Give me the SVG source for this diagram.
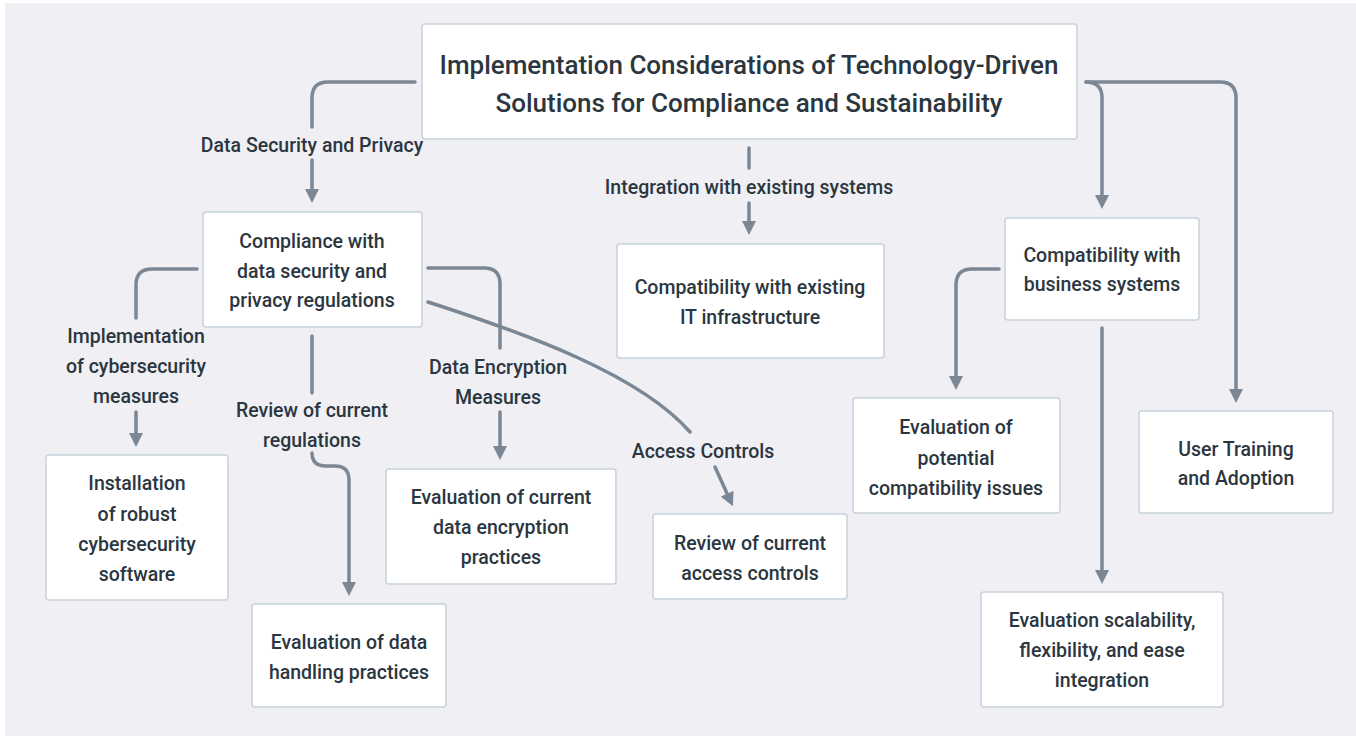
<svg xmlns="http://www.w3.org/2000/svg" width="1356" height="738" viewBox="0 0 1356 738">
<style>
  .node rect { fill: #ffffff; stroke: #c8d2dc; stroke-width: 1.5; }
  .t { font-family: Roboto, "Liberation Sans", sans-serif; font-size: 19.5px; font-weight: 500; fill: #2b3640; text-anchor: middle; }
  .title { font-size: 26px; }
  .lbl { font-family: Roboto, "Liberation Sans", sans-serif; font-size: 19.5px; font-weight: 500; fill: #2b3640; text-anchor: middle; }
  .c { fill: none; stroke: #7b8794; stroke-width: 3.5; stroke-linecap: round; }
  .a { marker-end: url(#arr); }
</style>
<defs>
  <marker id="arr" markerWidth="4" markerHeight="4" refX="2" refY="2" orient="auto" markerUnits="strokeWidth" viewBox="0 0 4 4">
    <path d="M0,0 L4,2 L0,4 Z" fill="#7b8794"/>
  </marker>
</defs>
<rect x="0" y="0" width="1356" height="738" fill="#ffffff"/>
<rect x="5" y="3" width="1351" height="733" fill="#efeff4"/>

<g id="connectors">
  <path class="c" d="M415,82 H328 Q312,82 312,98 V127"/>
  <path class="c a" d="M312,160 V196"/>
  <path class="c" d="M749,148 V168"/>
  <path class="c a" d="M749,203 V228"/>
  <path class="c a" d="M1086,82 Q1102,82 1102,98 V202"/>
  <path class="c a" d="M1086,82 H1220 Q1236,82 1236,98 V396"/>
  <path class="c" d="M197,269 H152 Q136,269 136,285 V318"/>
  <path class="c a" d="M136,412 V440"/>
  <path class="c" d="M312,336 V393"/>
  <path class="c a" d="M312,453 Q312,466 326,466 H335 Q349,466 349,480 V589"/>
  <path class="c" d="M428,268 H484 Q500,268 500,284 V348"/>
  <path class="c a" d="M500,412 V453"/>
  <path class="c" d="M428,302 C530,335 640,375 690,432"/>
  <path class="c a" d="M715,467 L730,500"/>
  <path class="c a" d="M999,269 H972 Q956,269 956,285 V383"/>
  <path class="c a" d="M1102,328 V577"/>
</g>

<g id="edge-labels">
  <text class="lbl" x="312" y="152">Data Security and Privacy</text>
  <text class="lbl" x="749" y="194">Integration with existing systems</text>
  <text class="lbl" x="136" y="343">Implementation</text>
  <text class="lbl" x="136" y="373">of cybersecurity</text>
  <text class="lbl" x="136" y="403">measures</text>
  <text class="lbl" x="312" y="417">Review of current</text>
  <text class="lbl" x="312" y="447">regulations</text>
  <text class="lbl" x="498" y="374">Data Encryption</text>
  <text class="lbl" x="498" y="404">Measures</text>
  <text class="lbl" x="703" y="458">Access Controls</text>
</g>

<g id="root" class="node">
  <rect x="422" y="24" width="655" height="115" rx="3"/>
  <text class="t title" x="749" y="74">Implementation Considerations of Technology-Driven</text>
  <text class="t title" x="749" y="112">Solutions for Compliance and Sustainability</text>
</g>
<g id="compliance" class="node">
  <rect x="203" y="212" width="219" height="115" rx="3"/>
  <text class="t" x="312" y="248">Compliance with</text>
  <text class="t" x="312" y="278">data security and</text>
  <text class="t" x="312" y="307">privacy regulations</text>
</g>
<g id="installation" class="node">
  <rect x="46" y="455" width="182" height="145" rx="3"/>
  <text class="t" x="137" y="490">Installation</text>
  <text class="t" x="137" y="521">of robust</text>
  <text class="t" x="137" y="551">cybersecurity</text>
  <text class="t" x="137" y="581">software</text>
</g>
<g id="eval-handling" class="node">
  <rect x="252" y="604" width="194" height="103" rx="3"/>
  <text class="t" x="349" y="649">Evaluation of data</text>
  <text class="t" x="349" y="679">handling practices</text>
</g>
<g id="eval-encryption" class="node">
  <rect x="386" y="469" width="230" height="115" rx="3"/>
  <text class="t" x="501" y="504">Evaluation of current</text>
  <text class="t" x="501" y="534">data encryption</text>
  <text class="t" x="501" y="564">practices</text>
</g>
<g id="review-access" class="node">
  <rect x="653" y="514" width="194" height="85" rx="3"/>
  <text class="t" x="750" y="550">Review of current</text>
  <text class="t" x="750" y="580">access controls</text>
</g>
<g id="compat-it" class="node">
  <rect x="617" y="244" width="267" height="114" rx="3"/>
  <text class="t" x="750" y="294">Compatibility with existing</text>
  <text class="t" x="750" y="324">IT infrastructure</text>
</g>
<g id="compat-business" class="node">
  <rect x="1005" y="218" width="194" height="102" rx="3"/>
  <text class="t" x="1102" y="262">Compatibility with</text>
  <text class="t" x="1102" y="291">business systems</text>
</g>
<g id="eval-potential" class="node">
  <rect x="853" y="398" width="207" height="115" rx="3"/>
  <text class="t" x="956" y="434">Evaluation of</text>
  <text class="t" x="956" y="465">potential</text>
  <text class="t" x="956" y="495">compatibility issues</text>
</g>
<g id="user-training" class="node">
  <rect x="1139" y="411" width="194" height="102" rx="3"/>
  <text class="t" x="1236" y="456">User Training</text>
  <text class="t" x="1236" y="485">and Adoption</text>
</g>
<g id="eval-scalability" class="node">
  <rect x="981" y="592" width="242" height="115" rx="3"/>
  <text class="t" x="1102" y="627">Evaluation scalability,</text>
  <text class="t" x="1102" y="657">flexibility, and ease</text>
  <text class="t" x="1102" y="687">integration</text>
</g>
</svg>
